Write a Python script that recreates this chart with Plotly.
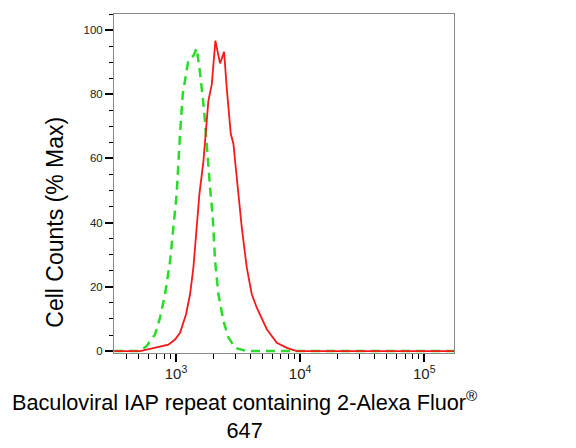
import plotly.graph_objects as go

# controle (verde tracejado)
ctrl_x = [318, 513, 580, 677, 743, 815, 895, 952, 1012, 1077, 1132, 1257, 1380, 1467,
          1563, 1683, 1767, 1880, 1976, 2064, 2195, 2409, 2644, 2991, 3715, 174000]
ctrl_y = [0, 0, 1.6, 5.2, 10.4, 17.7, 28, 38.5, 49, 67.7, 80, 90.6, 92, 94.3,
          86.5, 75, 63.5, 51, 41.7, 28, 17.7, 9.4, 4.2, 1, 0, 0]

# amostra (vermelho)
amostra_x = [318, 513, 617, 743, 867, 981, 1077, 1204, 1297, 1380, 1468, 1543, 1661, 1767,
             1823, 1940, 2025, 2075, 2263, 2439, 2562, 2761, 2899, 3084, 3386, 3715,
             4077, 4475, 5386, 6486, 7805, 9395, 174000]
amostra_y = [0, 0, 0.7, 1.5, 2, 3.6, 5.7, 11.5, 17.7, 26, 38.5, 49, 59, 70,
             78, 83, 90.6, 96.7, 89.6, 93.2, 82, 67.7, 64.6, 54, 38.5, 26,
             17.7, 13.5, 6.8, 2.6, 1, 0, 0]

fig = go.Figure()

fig.add_trace(go.Scatter(
    x=ctrl_x, y=ctrl_y, mode="lines",
    line=dict(color="rgb(40,220,40)", width=2.5, dash="9px,6px"),
    showlegend=False
))
fig.add_trace(go.Scatter(
    x=amostra_x, y=amostra_y, mode="lines",
    line=dict(color="rgb(245,25,25)", width=1.8),
    showlegend=False
))

# a página tem 8px de margem no body, por isso a figura é um pouco menor
fig.update_layout(
    width=568, height=440,
    paper_bgcolor="white", plot_bgcolor="white",
    margin=dict(l=106, r=122, t=6, b=95),
    font=dict(family="Liberation Sans, Arial, sans-serif", color="#222"),
    xaxis=dict(
        type="log", range=[2.5, 5.24], dtick=1,
        exponentformat="power",
        showgrid=False, zeroline=False,
        showline=True, linecolor="#888", linewidth=1, mirror=True,
        ticks="outside", ticklen=8, tickwidth=2, tickcolor="black",
        tickfont=dict(size=12, color="#222"),
        minor=dict(ticks="outside", ticklen=5, tickwidth=1, tickcolor="black",
                   dtick="D1", showgrid=False),
    ),
    yaxis=dict(
        range=[-0.6, 105], tick0=0, dtick=20,
        showgrid=False, zeroline=False,
        showline=True, linecolor="#888", linewidth=1, mirror=True,
        ticks="outside", ticklen=8, tickwidth=2, tickcolor="black",
        tickfont=dict(size=11.5, color="#222"),
        minor=dict(ticks="outside", ticklen=4, tickwidth=1, tickcolor="black",
                   dtick=5, showgrid=False),
    ),
    annotations=[
        dict(text="Cell Counts (% Max)", textangle=-90,
             x=-0.173, y=0.385, xref="paper", yref="paper",
             xanchor="center", yanchor="middle", showarrow=False,
             font=dict(size=23, color="black")),
        dict(text="Baculoviral IAP repeat containing 2-Alexa Fluor<sup>®</sup><br>647",
             x=0.385, y=-0.095, xref="paper", yref="paper",
             xanchor="center", yanchor="top", showarrow=False,
             font=dict(size=21.7, color="black")),
    ],
)

fig.write_html("out.html")
